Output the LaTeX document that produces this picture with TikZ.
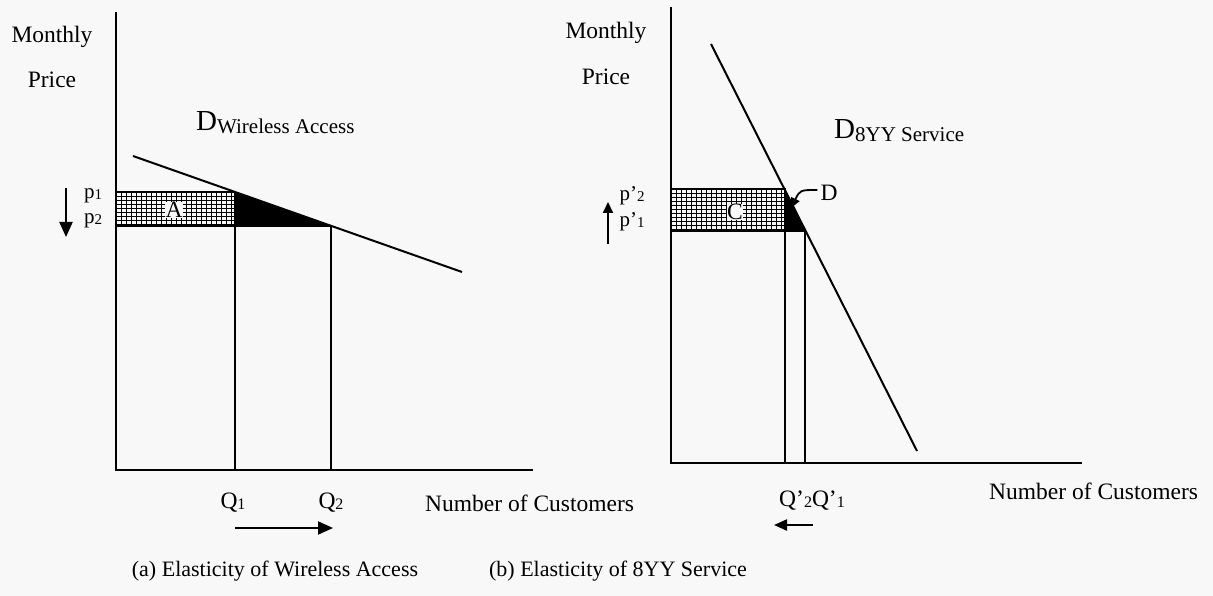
\documentclass[tikz,border=0pt]{standalone}
\usepackage{fontspec}
\setmainfont{Liberation Serif}
\usetikzlibrary{arrows.meta}
\definecolor{bgc}{RGB}{248,248,248}
\begin{document}
\begin{tikzpicture}[x=1pt,y=-1pt,
  axis/.style={line width=2.4pt},
  demand/.style={line width=2pt},
  qline/.style={line width=1.9pt},
  hatch/.style={line width=0.95pt},
  lbl/.style={inner sep=0pt,font=\fontsize{23.5}{27}\selectfont},
  plbl/.style={inner sep=0pt,font=\fontsize{21}{24}\selectfont},
  movearrow/.style={line width=2pt,-{Triangle[length=15pt,width=13pt]}}]
\useasboundingbox[fill=bgc] (0,0) rectangle (1213,596);
% ---------------- left panel ----------------
\coordinate (LO) at (116,470);
\coordinate (LT) at (116,12);
\coordinate (LX) at (533,470);
\coordinate (LD1) at (133,156);
\coordinate (LD2) at (462,272);
\coordinate (LP1) at (116,192);
\coordinate (LP2) at (116,226);
\coordinate (LA) at (235,192);
\coordinate (LB) at (331,226);
\coordinate (LQ1) at (235,470);
\coordinate (LQ2) at (331,470);
\coordinate (LC) at (235,226);
% hatched rectangle
\begin{scope}
  \clip (LP1) rectangle (LC);
  \foreach \x in {116,121,...,240} \draw[hatch] (\x,190) -- (\x,228);
  \foreach \y in {192,196,...,228} \draw[hatch] (114,\y) -- (237,\y);
\end{scope}
\draw[line width=1.4pt] (LP1) rectangle (LC);
\fill (LA) -- (LB) -- (LC) -- cycle;
\draw[axis] (LT) -- (LO) -- (LX);
\draw[demand] (LD1) -- (LD2);
\draw[qline] (LA) -- (LQ1);
\draw[qline] (LB) -- (LQ2);
\draw[line width=1.4pt] (LP2) -- (LB);
\node[lbl,fill=bgc,inner sep=0.5pt] (Alab) at (174,210) {A};
\node[lbl] (mL) at (52,37) {Monthly};
\node[lbl] (pL) at (52,80) {Price};
\node[plbl] (p1) at (93,196) {p\raisebox{-1pt}{\fontsize{15}{15}\selectfont 1}};
\node[plbl] (p2) at (93,221) {p\raisebox{-1pt}{\fontsize{15}{15}\selectfont 2}};
\coordinate (dnA) at (66,188);
\coordinate (dnB) at (66,237);
\draw[movearrow] (dnA) -- (dnB);
\node[lbl,anchor=base west] (DL) at (196,131) {\fontsize{29}{30}\selectfont D\raisebox{-3pt}{\fontsize{21}{22}\selectfont Wireless Access}};
\node[lbl] (q1) at (233,503) {Q\raisebox{-1pt}{\fontsize{16}{16}\selectfont 1}};
\node[lbl] (q2) at (331,503) {Q\raisebox{-1pt}{\fontsize{16}{16}\selectfont 2}};
\coordinate (raA) at (235,528);
\coordinate (raB) at (333,528);
\draw[movearrow] (raA) -- (raB);
\node[lbl,anchor=west] (ncL) at (425,503) {Number of Customers};
% ---------------- right panel ----------------
\coordinate (RO) at (671,463);
\coordinate (RT) at (671,7);
\coordinate (RX) at (1082,463);
\coordinate (RD1) at (711,44);
\coordinate (RD2) at (917,451);
\coordinate (RP2) at (671,189);
\coordinate (RP1) at (671,231);
\coordinate (RA) at (785,189);
\coordinate (RB) at (805,231);
\coordinate (RC) at (785,231);
\coordinate (RQ2) at (785,463);
\coordinate (RQ1) at (805,463);
\begin{scope}
  \clip (RP2) rectangle (RC);
  \foreach \x in {671,676,...,790} \draw[hatch] (\x,187) -- (\x,233);
  \foreach \y in {189,193,...,233} \draw[hatch] (669,\y) -- (787,\y);
\end{scope}
\draw[line width=1.4pt] (RP2) rectangle (RC);
\fill (RA) -- (RB) -- (RC) -- cycle;
\draw[axis] (RT) -- (RO) -- (RX);
\draw[demand] (RD1) -- (RD2);
\draw[qline] (RA) -- (RQ2);
\draw[qline] (RB) -- (RQ1);
\draw[line width=1.4pt] (RP1) -- (RB);
\node[lbl,fill=bgc,inner sep=0.5pt] (Clab) at (735,212) {C};
\node[lbl] (mR) at (606,33) {Monthly};
\node[lbl] (pR) at (606,77) {Price};
\node[plbl] (pp2) at (632,196) {p'\raisebox{-1pt}{\fontsize{15}{15}\selectfont 2}};
\node[plbl] (pp1) at (632,222) {p'\raisebox{-1pt}{\fontsize{15}{15}\selectfont 1}};
\coordinate (upA) at (608,244);
\coordinate (upB) at (608,202);
\draw[line width=2pt,-{Triangle[length=11pt,width=10pt]}] (upA) -- (upB);
\node[lbl] (Dlab) at (829,193) {D};
\coordinate (Dtip) at (791,208);
\draw[line width=1.8pt,-{Triangle[length=10pt,width=9pt]}] (Dlab.west) ++(-3,-3) .. controls (800,190) .. (Dtip);
\node[lbl,anchor=base west] (DR) at (834,139) {\fontsize{29}{30}\selectfont D\raisebox{-3pt}{\fontsize{21}{22}\selectfont 8YY Service}};
\node[lbl] (qq) at (812,501) {Q'\raisebox{-1pt}{\fontsize{16}{16}\selectfont 2}Q'\raisebox{-1pt}{\fontsize{16}{16}\selectfont 1}};
\coordinate (laA) at (813,525);
\coordinate (laB) at (774,525);
\draw[line width=2pt,-{Triangle[length=13pt,width=11pt]}] (laA) -- (laB);
\node[lbl,anchor=west] (ncR) at (989,491) {Number of Customers};
% captions
\node[lbl,font=\fontsize{22}{26}\selectfont] (capA) at (275,571) {(a) Elasticity of Wireless Access};
\node[lbl,font=\fontsize{22}{26}\selectfont] (capB) at (618,571) {(b) Elasticity of 8YY Service};
\end{tikzpicture}
\end{document}
